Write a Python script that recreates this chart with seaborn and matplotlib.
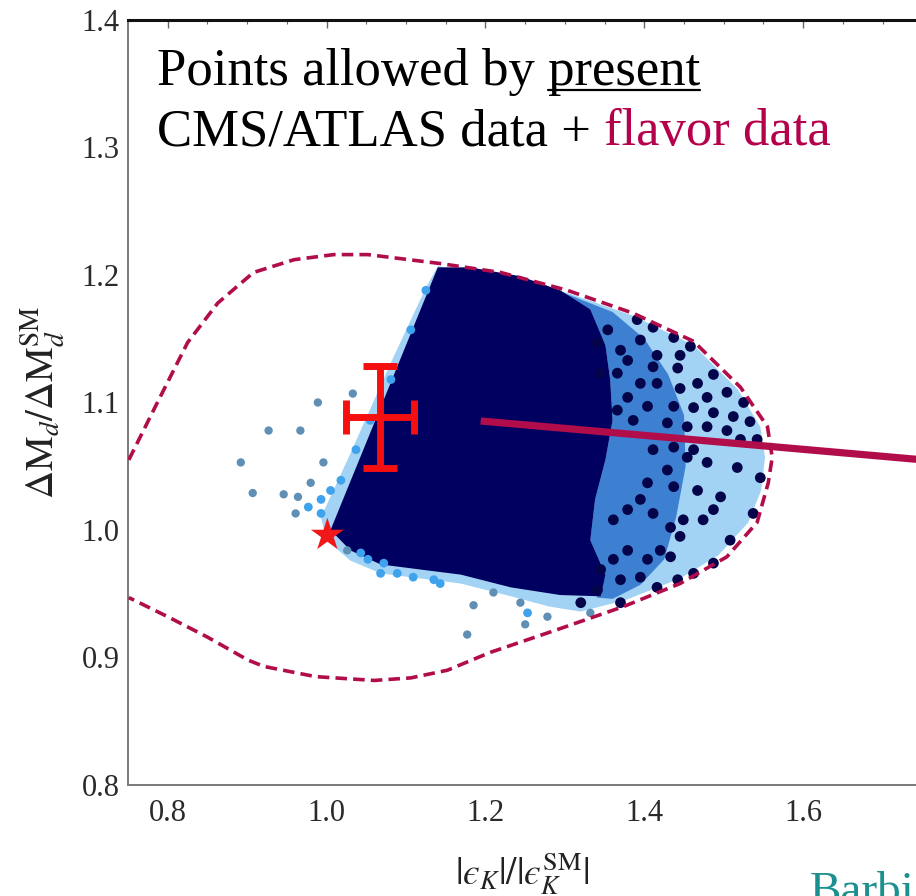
import matplotlib
matplotlib.use("Agg")
import matplotlib.pyplot as plt
from matplotlib.ticker import MultipleLocator
from matplotlib.lines import Line2D
import seaborn as sns

# ---------------- data ----------------
x_ticks = [0.8, 1.0, 1.2, 1.4, 1.6]
y_ticks = [0.8, 0.9, 1.0, 1.1, 1.2, 1.3, 1.4]

# dashed boundary of the allowed region
contour_x = [0.751, 0.787, 0.825, 0.863, 0.908, 0.959, 1.009, 1.052, 1.143, 1.219,
             1.303, 1.386, 1.462, 1.521, 1.555, 1.561, 1.556, 1.542, 1.504, 1.445,
             1.374, 1.291, 1.206, 1.152, 1.106, 1.060, 0.986, 0.921, 0.901, 0.850,
             0.800, 0.751]
contour_y = [1.055, 1.100, 1.147, 1.178, 1.202, 1.212, 1.216, 1.216, 1.209, 1.202,
             1.188, 1.170, 1.148, 1.112, 1.081, 1.057, 1.037, 1.006, 0.979, 0.958,
             0.940, 0.922, 0.904, 0.890, 0.884, 0.882, 0.885, 0.893, 0.898, 0.916,
             0.932, 0.947]

# light-blue envelope of the scan points
env_x = [1.140, 1.219, 1.303, 1.386, 1.462, 1.518, 1.546, 1.552, 1.547, 1.531,
         1.493, 1.445, 1.376, 1.320, 1.280, 1.232, 1.169, 1.118, 1.068, 1.030,
         1.000, 0.993, 1.030, 1.080, 1.125]
env_y = [1.207, 1.199, 1.186, 1.168, 1.145, 1.110, 1.081, 1.057, 1.031, 1.006,
         0.980, 0.962, 0.945, 0.936, 0.940, 0.948, 0.958, 0.962, 0.966, 0.976,
         0.992, 1.010, 1.060, 1.130, 1.190]

# medium (mixed) part of the scan
mid_x = [1.290, 1.360, 1.400, 1.430, 1.450, 1.452, 1.440, 1.425, 1.395, 1.360,
         1.340, 1.351, 1.332, 1.338, 1.351, 1.360, 1.357, 1.351, 1.332]
mid_y = [1.188, 1.171, 1.150, 1.122, 1.090, 1.050, 1.010, 0.977, 0.957, 0.946,
         0.947, 0.965, 0.992, 1.024, 1.055, 1.086, 1.118, 1.145, 1.173]

# dense (solid navy) part of the scan
dense_x = [1.005, 1.140, 1.181, 1.244, 1.294, 1.332, 1.351, 1.357, 1.360, 1.351,
           1.338, 1.332, 1.351, 1.345, 1.294, 1.232, 1.169, 1.118, 1.068, 1.030]
dense_y = [1.000, 1.206, 1.206, 1.199, 1.188, 1.173, 1.145, 1.118, 1.086, 1.055,
           1.024, 0.992, 0.965, 0.948, 0.949, 0.955, 0.965, 0.969, 0.973, 0.984]

# sparse navy points in the outer part of the scan
navy_x = [1.416, 1.445, 1.395, 1.411, 1.442, 1.467, 1.487, 1.479, 1.504, 1.525,
          1.445, 1.416, 1.395, 1.379, 1.404, 1.437, 1.462, 1.487, 1.512, 1.533,
          1.504, 1.479, 1.454, 1.429, 1.386, 1.366, 1.370, 1.391, 1.411, 1.437,
          1.458, 1.354, 1.341, 1.345, 1.366, 1.379, 1.542, 1.521, 1.462, 1.437,
          1.411, 1.517, 1.546, 1.479, 1.454, 1.429, 1.404, 1.437, 1.467, 1.496,
          1.474, 1.449, 1.433, 1.411, 1.395, 1.379, 1.361, 1.537, 1.508, 1.487,
          1.445, 1.420, 1.433, 1.404, 1.379, 1.395, 1.370, 1.361, 1.345, 1.341,
          1.320, 1.370, 1.416, 1.442, 1.462, 1.487]
navy_y = [1.137, 1.137, 1.149, 1.128, 1.127, 1.115, 1.122, 1.104, 1.108, 1.100,
          1.111, 1.115, 1.115, 1.104, 1.097, 1.097, 1.096, 1.092, 1.089, 1.085,
          1.078, 1.081, 1.081, 1.084, 1.086, 1.094, 1.141, 1.165, 1.159, 1.151,
          1.144, 1.157, 1.147, 1.123, 1.123, 1.133, 1.071, 1.071, 1.063, 1.065,
          1.063, 1.049, 1.041, 1.053, 1.057, 1.047, 1.037, 1.034, 1.031, 1.026,
          1.008, 1.008, 1.002, 1.013, 1.024, 1.016, 1.008, 1.013, 0.992, 1.016,
          0.995, 0.984, 0.979, 0.977, 0.984, 0.963, 0.961, 0.977, 0.969, 0.953,
          0.943, 0.943, 0.955, 0.961, 0.966, 0.974]

# bright light-blue points along the edge of the dense part
lblue_x = [0.977, 0.993, 0.993, 1.005, 1.052, 1.068, 1.089, 1.109, 1.135, 1.143,
           1.072, 1.043, 1.253, 1.018, 1.037, 1.055, 1.081, 1.106, 1.125]
lblue_y = [1.018, 1.024, 1.013, 1.031, 0.977, 0.966, 0.966, 0.963, 0.961, 0.958,
           0.974, 0.982, 0.935, 1.039, 1.063, 1.086, 1.118, 1.157, 1.188]

# sparse steel-blue points
steel_x = [1.033, 0.989, 0.927, 0.967, 0.892, 0.996, 0.980, 0.907, 0.946, 0.964,
           0.961, 1.026, 1.185, 1.244, 1.278, 1.250, 1.177, 1.210, 1.332]
steel_y = [1.107, 1.100, 1.078, 1.078, 1.053, 1.053, 1.037, 1.029, 1.028, 1.026,
           1.013, 0.984, 0.941, 0.943, 0.932, 0.926, 0.918, 0.951, 0.935]

# measured point (red cross) and SM point (star)
meas_x, meas_y = [1.067], [1.089]
meas_xerr, meas_yerr = [0.043], [0.040]
sm_x, sm_y = [1.001], [0.996]

# annotation arrow line (slide overlay)
arrow_x = [1.194, 1.760]
arrow_y = [1.0855, 1.0545]

# ---------------- styling ----------------
sns.set_style("white")
plt.rcParams["font.family"] = ["Liberation Serif", "DejaVu Serif"]
plt.rcParams["mathtext.fontset"] = "stix"

CRIMSON = "#b10d4b"
NAVY = "#000060"

W, H = 916, 896
fig = plt.figure(figsize=(W / 100, H / 100), dpi=100)
ax = fig.add_axes([128 / W, (H - 785) / H, (W - 128) / W, (785 - 20) / H])

ax.fill(env_x, env_y, color="#a3d3f4", lw=0, zorder=1)
ax.fill(mid_x, mid_y, color="#3d7fd0", lw=0, zorder=1.5)
ax.fill(dense_x, dense_y, color=NAVY, lw=0, zorder=2)
sns.scatterplot(x=lblue_x, y=lblue_y, s=40, color="#3fa2ec", edgecolor="none", ax=ax, zorder=3)
sns.scatterplot(x=steel_x, y=steel_y, s=36, color="#5f8fb5", edgecolor="none", ax=ax, zorder=3)
sns.scatterplot(x=navy_x, y=navy_y, s=60, color="#04044a", edgecolor="none", ax=ax, zorder=3)

sns.lineplot(x=contour_x, y=contour_y, sort=False, estimator=None, color=CRIMSON,
             lw=2.6, linestyle=(0, (3.2, 1.7)), ax=ax, zorder=4)

ax.errorbar(meas_x, meas_y, xerr=meas_xerr, yerr=meas_yerr, fmt="none",
            ecolor="#f50f0f", elinewidth=5, capsize=12.5, capthick=5, zorder=6)
sns.scatterplot(x=sm_x, y=sm_y, marker="*", s=620, color="#f01818",
                edgecolor="none", ax=ax, zorder=6)

ax.add_line(Line2D(arrow_x, arrow_y, color=CRIMSON, lw=5.2, clip_on=False,
                   solid_capstyle="butt", zorder=7))

ax.set_xlim(0.75, 1.742)
ax.set_ylim(0.8, 1.4)
ax.set_xticks(x_ticks)
ax.set_yticks(y_ticks)
ax.set_xticklabels([f"{v:.1f}" for v in x_ticks])
ax.set_yticklabels([f"{v:.1f}" for v in y_ticks])
ax.xaxis.set_minor_locator(MultipleLocator(0.05))
ax.yaxis.set_minor_locator(MultipleLocator(0.02))
ax.tick_params(which="both", direction="in", top=True, right=False, colors="#666666",
               labelcolor="#2a2a2a", labelsize=22)
ax.tick_params(which="major", length=6, width=1.0)
ax.tick_params(which="minor", length=3, width=0.8)
ax.tick_params(axis="x", pad=10)
ax.tick_params(axis="y", pad=6)

for side in ["left", "bottom"]:
    ax.spines[side].set_color("#7a7a7a")
    ax.spines[side].set_linewidth(1.4)
ax.spines["top"].set_color("#111111")
ax.spines["top"].set_linewidth(2.2)
ax.spines["right"].set_visible(False)

ax.set_xlabel("$|\u03f5_K|/|\u03f5_K^{\\mathrm{SM}}|$", fontsize=27, color="#222222")
ax.set_ylabel(r"$\Delta\mathrm{M}_d/\Delta\mathrm{M}_d^{\mathrm{SM}}$", fontsize=28, color="#222222")
ax.xaxis.set_label_coords(0.5, -0.086)
ax.yaxis.set_label_coords(-0.077, 0.5)

# ---------------- overlay text ----------------
fs = 38
fig.canvas.draw()
r = fig.canvas.get_renderer()
y1 = (H - 85) / H
y2 = (H - 145) / H
x0 = 157 / W
full1 = fig.text(x0, y1, "Points allowed by present", fontsize=fs, color="black", va="baseline")
word = fig.text(0, 0, "present", fontsize=fs, alpha=0)
fig.canvas.draw()
b_full = full1.get_window_extent(r)
b_word = word.get_window_extent(r)
ux0 = b_full.x1 - b_word.width
fig.add_artist(Line2D([ux0 / W, b_full.x1 / W], [(H - 90) / H, (H - 90) / H],
                      color="black", lw=1.6, transform=fig.transFigure))

meas = fig.text(x0, y2, "CMS/ATLAS data + flavor data", fontsize=fs, alpha=0, va="baseline")
fig.canvas.draw()
b2 = meas.get_window_extent(r)
fig.text(x0, y2, "CMS/ATLAS data +", fontsize=fs, color="black", va="baseline")
fig.text(b2.x1 / W, y2, "flavor data", fontsize=fs, color="#b5004b", va="baseline", ha="right")

fig.text(810 / W, (H - 904) / H, "Barbi", fontsize=34, color="#1c8f8f", va="baseline")

fig.savefig("out.png", dpi=100)
